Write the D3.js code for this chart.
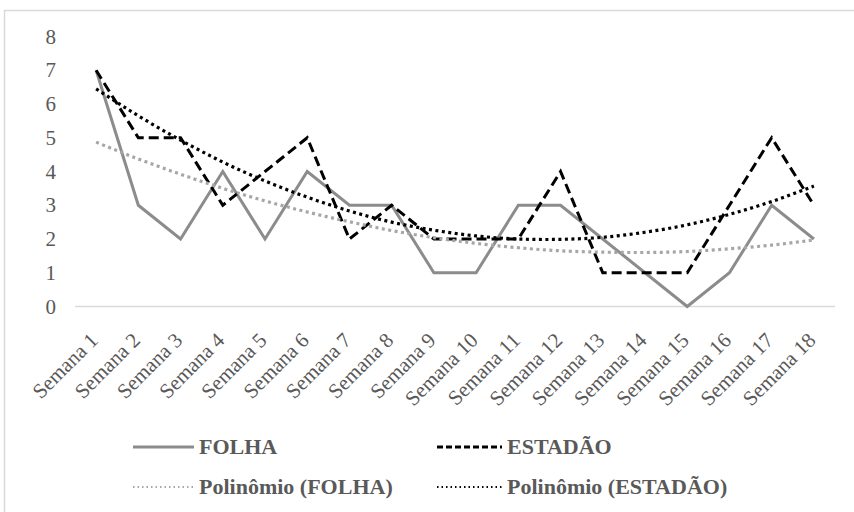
<!DOCTYPE html>
<html><head><meta charset="utf-8">
<script src="https://cdn.jsdelivr.net/npm/d3@7"></script>
</head>
<body style="margin:0;background:#fff">
<svg id="chart" width="854" height="512" style="display:block"></svg>
<script>
const categories = ["Semana 1","Semana 2","Semana 3","Semana 4","Semana 5","Semana 6","Semana 7","Semana 8","Semana 9",
  "Semana 10","Semana 11","Semana 12","Semana 13","Semana 14","Semana 15","Semana 16","Semana 17","Semana 18"];
const folha   = [7,3,2,4,2,4,3,3,1,1,3,3,2,1,0,1,3,2];
const estadao = [7,5,5,3,4,5,2,3,2,2,2,4,1,1,1,3,5,3];
const polyFolha   = [4.87,4.37,3.92,3.50,3.13,2.80,2.51,2.25,2.04,1.87,1.74,1.65,1.61,1.60,1.63,1.71,1.82,1.97];
const polyEstadao = [6.45,5.65,4.93,4.28,3.72,3.24,2.83,2.50,2.26,2.09,2.00,1.99,2.05,2.20,2.42,2.73,3.11,3.57];
const yTicks = [0,1,2,3,4,5,6,7,8];
const legendLabels = ["FOLHA","ESTADÃO","Polinômio (FOLHA)","Polinômio (ESTADÃO)"];

const FONT = "'Liberation Serif', serif";
const svg = d3.select("#chart");

// frame
svg.append("rect").attr("x",4.5).attr("y",10.5).attr("width",860).attr("height",520)
  .attr("fill","#fff").attr("stroke","#d9d9d9").attr("stroke-width",1.5);

const x = d3.scaleBand().domain(categories).range([75, 835]).paddingInner(0).paddingOuter(0);
const y = d3.scaleLinear().domain([0, 8]).range([306.5, 36.5]);
const cx = d => x(d) + x.bandwidth() / 2;

// y axis (labels via scale ticks)
const yAxis = d3.axisLeft(y).tickValues(yTicks).tickSize(0).tickPadding(6).tickFormat(d3.format("d"));
const ya = svg.append("g").attr("transform","translate(62,0)").call(yAxis);
ya.select(".domain").remove();
ya.attr("font-family", FONT).attr("font-size", 21);
ya.selectAll("text").attr("fill","#595959").attr("font-family", FONT).attr("font-size", 21);

// baseline
svg.append("line").attr("x1",75).attr("x2",835).attr("y1",y(0)).attr("y2",y(0))
  .attr("stroke","#d9d9d9").attr("stroke-width",1.5);

// x axis
const xa = svg.append("g").attr("transform",`translate(0,${y(0)})`).call(d3.axisBottom(x).tickSize(0));
xa.select(".domain").remove();
xa.attr("font-family", FONT).attr("font-size", 21);
xa.selectAll("text")
  .attr("y",0).attr("dy",0)
  .attr("transform","translate(3,35) rotate(-45)")
  .attr("text-anchor","end")
  .attr("fill","#595959")
  .attr("font-family", FONT).attr("font-size", 21);

const line = d3.line().x((d,i) => cx(categories[i])).y(d => y(d));
const smooth = d3.line().x((d,i) => cx(categories[i])).y(d => y(d)).curve(d3.curveNatural);

const styles = [
  {data: folha, gen: line, stroke:"#8c8c8c", width:3, dash:null},
  {data: estadao, gen: line, stroke:"#000", width:3, dash:"10,5"},
  {data: polyFolha, gen: smooth, stroke:"#a6a6a6", width:3.2, dash:"3,3.5"},
  {data: polyEstadao, gen: smooth, stroke:"#000", width:3.2, dash:"3,3.5"}
];

styles.forEach(s => {
  svg.append("path").datum(s.data).attr("d", s.gen)
    .attr("fill","none").attr("stroke", s.stroke).attr("stroke-width", s.width)
    .attr("stroke-linejoin","miter")
    .attr("stroke-dasharray", s.dash);
});

// legend
const legendPos = [
  {lx:133, tx:199, y:447},
  {lx:437, tx:507, y:447},
  {lx:133, tx:199, y:487},
  {lx:437, tx:507, y:487}
];
legendLabels.forEach((lab, i) => {
  const s = styles[i], p = legendPos[i];
  svg.append("line").attr("x1", p.lx).attr("x2", p.tx - 5).attr("y1", p.y).attr("y2", p.y)
    .attr("stroke", s.stroke).attr("stroke-width", i < 2 ? 3 : 2)
    .attr("stroke-dasharray", i === 0 ? null : (i === 1 ? "6,3" : "1.5,3"));
  svg.append("text").attr("x", p.tx).attr("y", p.y).attr("dy","0.33em")
    .attr("fill","#595959").attr("font-size", 22).attr("font-weight","bold")
    .attr("font-family", FONT)
    .text(lab);
});
</script>
</body></html>
